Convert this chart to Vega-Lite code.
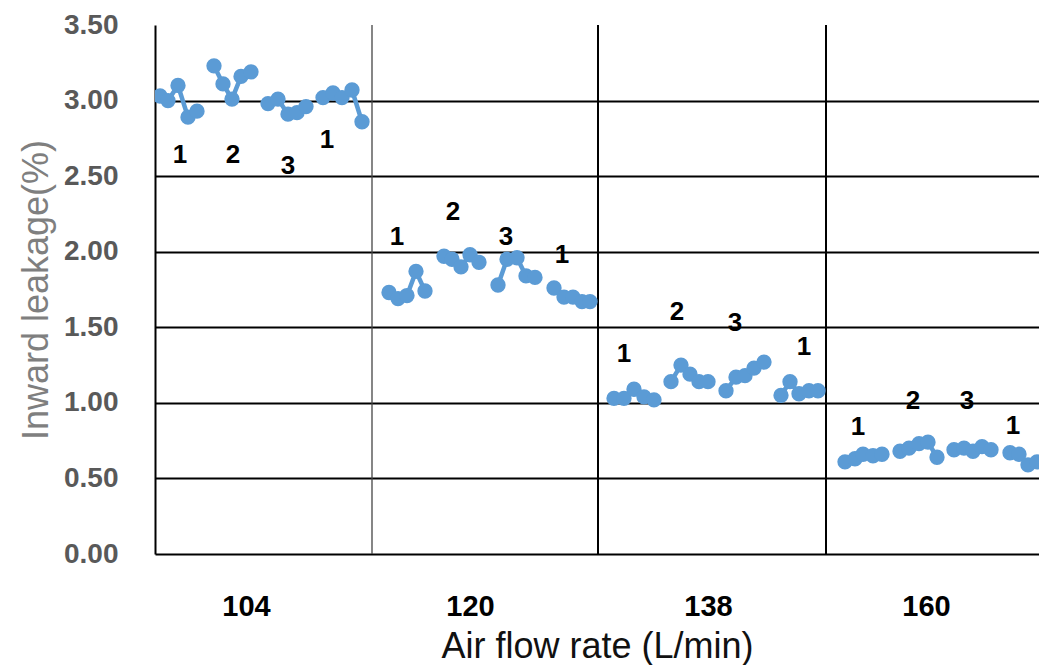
{
  "$schema": "https://vega.github.io/schema/vega-lite/v6.json",
  "width": 884,
  "height": 529,
  "autosize": {"type": "none"},
  "padding": {"left": 155, "top": 25, "right": 0, "bottom": 111},
  "background": "white",
  "config": {"view": {"stroke": null}, "font": "Liberation Sans"},
  "datasets": {
    "sep": [
      {"x": 21.7, "kind": "thin"},
      {"x": 44.3, "kind": "thick"},
      {"x": 67.1, "kind": "thick"}
    ],
    "pts": [
      {"g": "104-1a", "x": 0.5, "y": 3.03}, {"g": "104-1a", "x": 1.3, "y": 3.00}, {"g": "104-1a", "x": 2.3, "y": 3.10}, {"g": "104-1a", "x": 3.3, "y": 2.89}, {"g": "104-1a", "x": 4.2, "y": 2.93},
      {"g": "104-2", "x": 5.9, "y": 3.23}, {"g": "104-2", "x": 6.8, "y": 3.11}, {"g": "104-2", "x": 7.7, "y": 3.01}, {"g": "104-2", "x": 8.6, "y": 3.16}, {"g": "104-2", "x": 9.6, "y": 3.19},
      {"g": "104-3", "x": 11.3, "y": 2.98}, {"g": "104-3", "x": 12.3, "y": 3.01}, {"g": "104-3", "x": 13.3, "y": 2.91}, {"g": "104-3", "x": 14.2, "y": 2.92}, {"g": "104-3", "x": 15.1, "y": 2.96},
      {"g": "104-1b", "x": 16.8, "y": 3.02}, {"g": "104-1b", "x": 17.8, "y": 3.05}, {"g": "104-1b", "x": 18.7, "y": 3.02}, {"g": "104-1b", "x": 19.7, "y": 3.07}, {"g": "104-1b", "x": 20.7, "y": 2.86},
      {"g": "120-1a", "x": 23.4, "y": 1.73}, {"g": "120-1a", "x": 24.3, "y": 1.69}, {"g": "120-1a", "x": 25.2, "y": 1.71}, {"g": "120-1a", "x": 26.1, "y": 1.87}, {"g": "120-1a", "x": 27.0, "y": 1.74},
      {"g": "120-2", "x": 28.9, "y": 1.97}, {"g": "120-2", "x": 29.7, "y": 1.95}, {"g": "120-2", "x": 30.6, "y": 1.90}, {"g": "120-2", "x": 31.5, "y": 1.98}, {"g": "120-2", "x": 32.4, "y": 1.93},
      {"g": "120-3", "x": 34.3, "y": 1.78}, {"g": "120-3", "x": 35.2, "y": 1.95}, {"g": "120-3", "x": 36.2, "y": 1.96}, {"g": "120-3", "x": 37.1, "y": 1.84}, {"g": "120-3", "x": 38.0, "y": 1.83},
      {"g": "120-1b", "x": 39.9, "y": 1.76}, {"g": "120-1b", "x": 40.9, "y": 1.70}, {"g": "120-1b", "x": 41.8, "y": 1.70}, {"g": "120-1b", "x": 42.7, "y": 1.67}, {"g": "120-1b", "x": 43.5, "y": 1.67},
      {"g": "138-1a", "x": 45.9, "y": 1.03}, {"g": "138-1a", "x": 46.9, "y": 1.03}, {"g": "138-1a", "x": 47.9, "y": 1.09}, {"g": "138-1a", "x": 48.9, "y": 1.04}, {"g": "138-1a", "x": 49.9, "y": 1.02},
      {"g": "138-2", "x": 51.6, "y": 1.14}, {"g": "138-2", "x": 52.6, "y": 1.25}, {"g": "138-2", "x": 53.5, "y": 1.19}, {"g": "138-2", "x": 54.4, "y": 1.14}, {"g": "138-2", "x": 55.3, "y": 1.14},
      {"g": "138-3", "x": 57.1, "y": 1.08}, {"g": "138-3", "x": 58.1, "y": 1.17}, {"g": "138-3", "x": 59.0, "y": 1.18}, {"g": "138-3", "x": 59.9, "y": 1.23}, {"g": "138-3", "x": 60.9, "y": 1.27},
      {"g": "138-1b", "x": 62.6, "y": 1.05}, {"g": "138-1b", "x": 63.5, "y": 1.14}, {"g": "138-1b", "x": 64.4, "y": 1.06}, {"g": "138-1b", "x": 65.4, "y": 1.08}, {"g": "138-1b", "x": 66.3, "y": 1.08},
      {"g": "160-1a", "x": 69.0, "y": 0.61}, {"g": "160-1a", "x": 70.0, "y": 0.63}, {"g": "160-1a", "x": 70.8, "y": 0.66}, {"g": "160-1a", "x": 71.8, "y": 0.65}, {"g": "160-1a", "x": 72.7, "y": 0.66},
      {"g": "160-2", "x": 74.5, "y": 0.68}, {"g": "160-2", "x": 75.4, "y": 0.70}, {"g": "160-2", "x": 76.4, "y": 0.73}, {"g": "160-2", "x": 77.3, "y": 0.74}, {"g": "160-2", "x": 78.2, "y": 0.64},
      {"g": "160-3", "x": 79.9, "y": 0.69}, {"g": "160-3", "x": 80.9, "y": 0.70}, {"g": "160-3", "x": 81.8, "y": 0.68}, {"g": "160-3", "x": 82.7, "y": 0.71}, {"g": "160-3", "x": 83.6, "y": 0.69},
      {"g": "160-1b", "x": 85.5, "y": 0.67}, {"g": "160-1b", "x": 86.4, "y": 0.66}, {"g": "160-1b", "x": 87.3, "y": 0.59}, {"g": "160-1b", "x": 88.2, "y": 0.61}, {"g": "160-1b", "x": 89.1, "y": 0.62}
    ],
    "labels": [
      {"x": 2.5, "y": 2.64, "t": "1"}, {"x": 7.8, "y": 2.64, "t": "2"}, {"x": 13.3, "y": 2.57, "t": "3"}, {"x": 17.2, "y": 2.74, "t": "1"},
      {"x": 24.2, "y": 2.10, "t": "1"}, {"x": 29.8, "y": 2.26, "t": "2"}, {"x": 35.1, "y": 2.10, "t": "3"}, {"x": 40.7, "y": 1.98, "t": "1"},
      {"x": 46.9, "y": 1.32, "t": "1"}, {"x": 52.2, "y": 1.60, "t": "2"}, {"x": 58.0, "y": 1.53, "t": "3"}, {"x": 64.9, "y": 1.37, "t": "1"},
      {"x": 70.3, "y": 0.84, "t": "1"}, {"x": 75.8, "y": 1.01, "t": "2"}, {"x": 81.2, "y": 1.01, "t": "3"}, {"x": 85.8, "y": 0.85, "t": "1"}
    ]
  },
  "encoding": {
    "x": {
      "field": "x",
      "type": "quantitative",
      "scale": {"domain": [0, 88.4], "nice": false, "zero": false},
      "axis": {
        "values": [9.1, 31.5, 55.3, 77.1],
        "labelExpr": "datum.value < 20 ? '104' : datum.value < 40 ? '120' : datum.value < 60 ? '138' : '160'",
        "labelFontSize": 29,
        "labelFontWeight": "bold",
        "labelColor": "black",
        "labelPadding": 38,
        "labelFlush": false,
        "ticks": false,
        "grid": false,
        "domainColor": "black",
        "domainWidth": 2,
        "title": "Air flow rate (L/min)",
        "titleFontSize": 36,
        "titleFontWeight": "normal",
        "titleColor": "#111111",
        "titlePadding": 8
      }
    }
  },
  "layer": [
    {
      "data": {"name": "sep"},
      "transform": [{"filter": "datum.kind === 'thin'"}],
      "mark": {"type": "rule", "color": "#444444", "strokeWidth": 1.3},
      "encoding": {}
    },
    {
      "data": {"name": "sep"},
      "transform": [{"filter": "datum.kind === 'thick'"}],
      "mark": {"type": "rule", "color": "black", "strokeWidth": 2},
      "encoding": {}
    },
    {
      "data": {"name": "pts"},
      "mark": {"type": "line", "color": "#5B9BD5", "strokeWidth": 4.5, "clip": true},
      "encoding": {
        "detail": {"field": "g", "type": "nominal"},
        "y": {
          "field": "y",
          "type": "quantitative",
          "scale": {"domain": [0, 3.5], "nice": false},
          "axis": {
            "values": [0, 0.5, 1, 1.5, 2, 2.5, 3, 3.5],
            "format": ".2f",
            "labelFontSize": 28,
            "labelFontWeight": "bold",
            "labelColor": "#595959",
            "labelPadding": 37,
            "labelFlush": false,
            "ticks": false,
            "grid": true,
            "gridColor": "black",
            "gridWidth": 2,
            "gridOpacity": {"condition": {"test": "datum.value > 3.4 || datum.value < 0.01", "value": 0}, "value": 1},
            "domainColor": "black",
            "domainWidth": 2,
            "title": "Inward leakage(%)",
            "titleFontSize": 36,
            "titleFontWeight": "normal",
            "titleColor": "#7f7f7f",
            "titlePadding": 8
          }
        }
      }
    },
    {
      "data": {"name": "pts"},
      "mark": {"type": "circle", "color": "#5B9BD5", "size": 235, "opacity": 1, "clip": true},
      "encoding": {
        "y": {"field": "y", "type": "quantitative", "scale": {"domain": [0, 3.5], "nice": false}, "title": "Inward leakage(%)"}
      }
    },
    {
      "data": {"name": "labels"},
      "mark": {"type": "text", "fontSize": 26, "fontWeight": "bold", "color": "black", "align": "center", "baseline": "middle"},
      "encoding": {
        "y": {"field": "y", "type": "quantitative", "scale": {"domain": [0, 3.5], "nice": false}, "title": "Inward leakage(%)"},
        "text": {"field": "t", "type": "nominal"}
      }
    }
  ]
}
